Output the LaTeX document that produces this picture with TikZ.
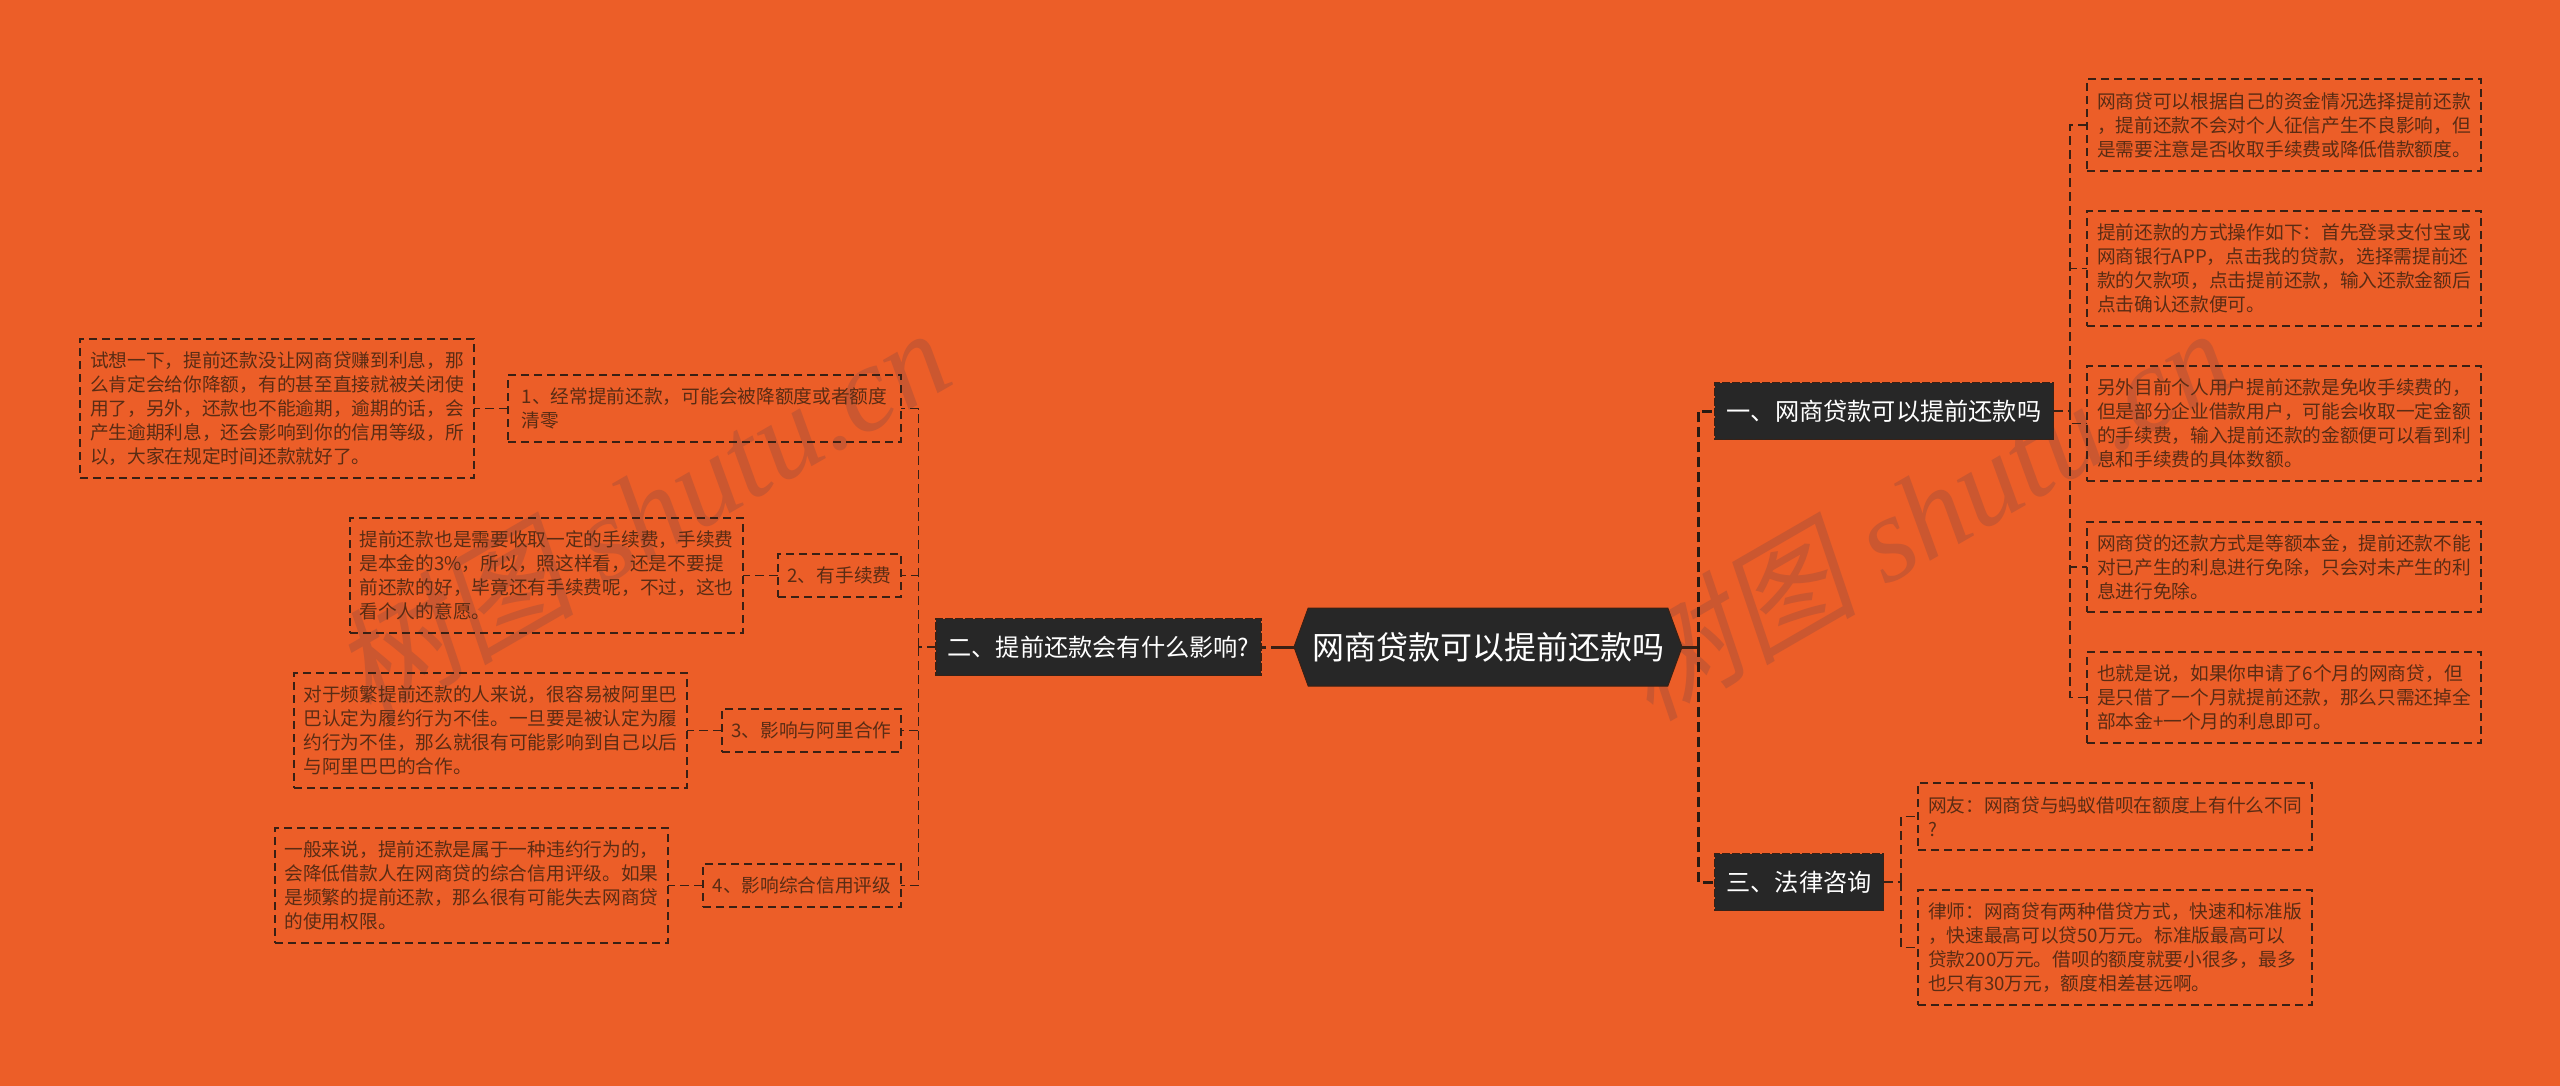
\documentclass[tikz,border=0pt]{standalone}
\usepackage{fontspec}
\setmainfont{Noto Sans CJK SC}
\newfontfamily\markfont[FakeSlant=0.2]{Noto Sans CJK SC}
\newfontfamily\marklatin{Liberation Serif Italic}
\usetikzlibrary{shapes.symbols}
\definecolor{pagebg}{HTML}{EC5E28}
\definecolor{markcol}{HTML}{CB5730}
\definecolor{inkcol}{HTML}{5A2C14}
\definecolor{linecol}{HTML}{3A2014}
\definecolor{spinecol}{HTML}{2A1A12}
\definecolor{boxcol}{HTML}{272727}
\tikzset{
  detail/.style={draw=linecol,line width=1.3pt,dash pattern=on 8pt off 5pt,inner sep=0pt,outer sep=0pt,
    align=left,text=inkcol,font=\fontsize{18.7}{24}\selectfont},
  branch/.style={draw=linecol,fill=boxcol,line width=1.5pt,dash pattern=on 8pt off 2pt,inner sep=0pt,outer sep=0pt,
    text=white,font=\fontsize{24.2}{30}\selectfont,minimum height=57pt},
  link/.style={draw=linecol,line width=1.3pt,dash pattern=on 9pt off 5pt},
  spine/.style={draw=spinecol,line width=3pt,dash pattern=on 10pt off 5pt},
  rootlink/.style={draw=linecol,line width=3pt,dash pattern=on 23pt off 5pt},
  wmark/.style={text=markcol,rotate=30,font=\fontsize{122}{122}\selectfont}
}
\begin{document}
\begin{tikzpicture}[x=1pt,y=-1pt]
        \fill[pagebg] (0,0) rectangle (2560,1086);
        \useasboundingbox (0,0) rectangle (2560,1086);
        \node[wmark] (markl) at (640,512) {{\markfont 树图} {\marklatin shutu.cn}};
        \node[wmark] (markr) at (1922,512) {{\markfont 树图} {\marklatin shutu.cn}};
        \node[signal,signal to=west and east,signal pointer angle=140,fill=boxcol,draw=linecol,line width=1pt,inner sep=0pt,outer sep=0pt,
            minimum width=388pt,minimum height=78pt,text=white,font=\fontsize{32}{38}\selectfont] (root) at (1488,647) {网商贷款可以提前还款吗};
        \node[branch,minimum width=339pt] (broa) at (1884,411) {一、网商贷款可以提前还款吗};
        \node[branch,minimum width=325pt] (brob) at (1098.5,647) {二、提前还款会有什么影响?};
        \node[branch,minimum width=169pt] (broc) at (1799,882) {三、法律咨询};
        \node[detail,minimum width=394pt,minimum height=92pt] (ansa) at (2284,125) {网商贷可以根据自己的资金情况选择提前还款\\，提前还款不会对个人征信产生不良影响，但\\是需要注意是否收取手续费或降低借款额度。\hfill};
        \node[detail,minimum width=394pt,minimum height=115pt] (ansb) at (2284,268.5) {提前还款的方式操作如下：首先登录支付宝或\\网商银行APP，点击我的贷款，选择需提前还\\款的欠款项，点击提前还款，输入还款金额后\\点击确认还款便可。};
        \node[detail,minimum width=394pt,minimum height=115pt] (ansc) at (2284,423.5) {另外目前个人用户提前还款是免收手续费的，\\但是部分企业借款用户，可能会收取一定金额\\的手续费，输入提前还款的金额便可以看到利\\息和手续费的具体数额。};
        \node[detail,minimum width=394pt,minimum height=90pt] (ansd) at (2284,567) {网商贷的还款方式是等额本金，提前还款不能\\对已产生的利息进行免除，只会对未产生的利\\息进行免除。};
        \node[detail,minimum width=394pt,minimum height=91pt] (anse) at (2284,697.5) {也就是说，如果你申请了6个月的网商贷，但\\是只借了一个月就提前还款，那么只需还掉全\\部本金+一个月的利息即可。};
        \node[detail,minimum width=394pt,minimum height=67pt] (lawa) at (2115,816.5) {网友：网商贷与蚂蚁借呗在额度上有什么不同\\?};
        \node[detail,minimum width=394pt,minimum height=115pt] (lawb) at (2115,947.5) {律师：网商贷有两种借贷方式，快速和标准版\\，快速最高可以贷50万元。标准版最高可以\\贷款200万元。借呗的额度就要小很多，最多\\也只有30万元，额度相差甚远啊。};
        \node[detail,minimum width=393pt,minimum height=67pt] (heada) at (704.5,408.5) {1、经常提前还款，可能会被降额度或者额度\\清零};
        \node[detail,minimum width=123pt,minimum height=43pt] (headb) at (839.5,575.5) {2、有手续费};
        \node[detail,minimum width=179pt,minimum height=43pt] (headc) at (811.5,730.5) {3、影响与阿里合作};
        \node[detail,minimum width=198pt,minimum height=43pt] (headd) at (802,885.5) {4、影响综合信用评级};
        \node[detail,minimum width=394pt,minimum height=139pt] (texta) at (277,408.5) {试想一下，提前还款没让网商贷赚到利息，那\\么肯定会给你降额，有的甚至直接就被关闭使\\用了，另外，还款也不能逾期，逾期的话，会\\产生逾期利息，还会影响到你的信用等级，所\\以，大家在规定时间还款就好了。};
        \node[detail,minimum width=393pt,minimum height=115pt] (textb) at (546.5,575.5) {提前还款也是需要收取一定的手续费，手续费\\是本金的3\%，所以，照这样看，还是不要提\\前还款的好，毕竟还有手续费呢，不过，这也\\看个人的意愿。};
        \node[detail,minimum width=393pt,minimum height=115pt] (textc) at (490.5,730.5) {对于频繁提前还款的人来说，很容易被阿里巴\\巴认定为履约行为不佳。一旦要是被认定为履\\约行为不佳，那么就很有可能影响到自己以后\\与阿里巴巴的合作。};
        \node[detail,minimum width=393pt,minimum height=115pt] (textd) at (471.5,885.5) {一般来说，提前还款是属于一种违约行为的，\\会降低借款人在网商贷的综合信用评级。如果\\是频繁的提前还款，那么很有可能失去网商贷\\的使用权限。};
        \coordinate (forkr) at (1698,647);
        \coordinate (forkl) at (918.5,647);
        \coordinate (forka) at (2070,411);
        \coordinate (forkc) at (1901,882);
        \draw[rootlink] (root.west) -- (brob.east);
        \draw[rootlink] (root.east) -- (forkr);
        \draw[spine] (forkr) |- (broa.west);
        \draw[spine] (forkr) |- (broc.west);
        \draw[link] (brob.west) -- (forkl);
        \draw[link] (forkl) |- (heada.east);
        \draw[link] (forkl) |- (headb.east);
        \draw[link] (forkl) |- (headc.east);
        \draw[link] (forkl) |- (headd.east);
        \draw[link] (heada.west) -- (texta.east);
        \draw[link] (headb.west) -- (textb.east);
        \draw[link] (headc.west) -- (textc.east);
        \draw[link] (headd.west) -- (textd.east);
        \draw[link] (broa.east) -- (forka);
        \draw[link] (forka) |- (ansa.west);
        \draw[link] (forka) |- (ansb.west);
        \draw[link] (forka) |- (ansc.west);
        \draw[link] (forka) |- (ansd.west);
        \draw[link] (forka) |- (anse.west);
        \draw[link] (broc.east) -- (forkc);
        \draw[link] (forkc) |- (lawa.west);
        \draw[link] (forkc) |- (lawb.west);
\end{tikzpicture}
\end{document}
